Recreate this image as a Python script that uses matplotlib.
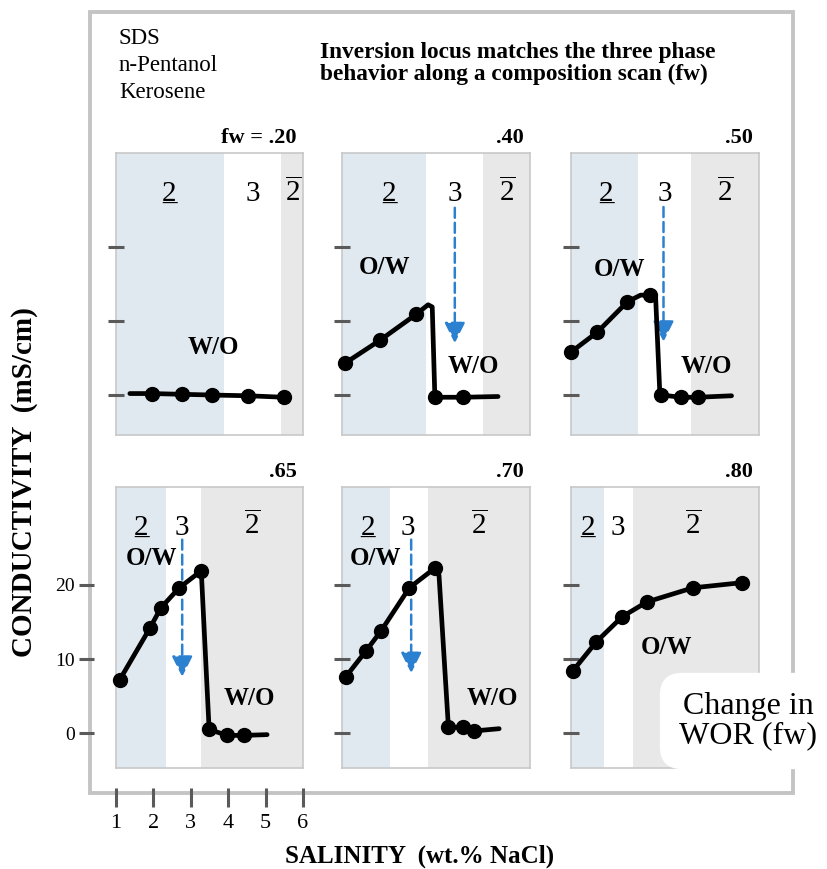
import matplotlib
matplotlib.use("Agg")
import matplotlib.pyplot as plt
from matplotlib.patches import Rectangle

plt.rcParams['font.family'] = ['Liberation Serif', 'DejaVu Serif']
plt.rcParams['mathtext.fontset'] = 'custom'
plt.rcParams['mathtext.rm'] = 'Liberation Serif'
plt.rcParams['mathtext.it'] = 'Liberation Serif:italic'

W, H = 827, 869

# ---------------- data ----------------
fw_titles = ['fw = .20', '.40', '.50', '.65', '.70', '.80']

# salinity limits of the phase regions (end of 2, end of 3)
two_end = [3.89, 3.23, 2.79, 2.34, 2.28, 1.88]
three_end = [5.41, 4.75, 4.18, 3.27, 3.29, 2.65]

# curve vertices (salinity, conductivity)
line_x_20 = [1.37, 1.96, 2.76, 3.57, 4.53, 5.49]
line_y_20 = [0.2, 0.2, 0.1, 0.0, -0.1, -0.3]
line_x_40 = [1.08, 2.01, 2.97, 3.29, 3.40, 3.47, 4.22, 5.15]
line_y_40 = [4.3, 7.4, 10.9, 12.2, 11.9, -0.3, -0.3, -0.2]
line_x_50 = [1.0, 1.7, 2.5, 2.85, 3.09, 3.25, 3.36, 3.40, 3.93, 4.38, 5.27]
line_y_50 = [5.8, 8.5, 12.6, 13.5, 13.5, 13.3, 0.5, 0.0, -0.3, -0.3, -0.1]
line_x_65 = [1.1, 1.91, 2.2, 2.69, 3.28, 3.49, 3.97, 4.42, 5.04]
line_y_65 = [7.2, 14.2, 16.9, 19.6, 21.9, 0.5, -0.3, -0.3, -0.2]
line_x_70 = [1.1, 1.64, 2.04, 2.79, 3.48, 3.58, 3.83, 4.22, 4.52, 5.18]
line_y_70 = [7.6, 11.1, 13.8, 19.6, 22.3, 21.3, 0.8, 0.8, 0.3, 0.6]
line_x_80 = [1.05, 1.67, 2.36, 3.02, 4.24, 5.55]
line_y_80 = [8.4, 12.3, 15.7, 17.7, 19.6, 20.3]

# measured points (dots)
dot_x_20 = [1.96, 2.76, 3.57, 4.53, 5.49]
dot_y_20 = [0.2, 0.1, 0.0, -0.1, -0.3]
dot_x_40 = [1.08, 2.01, 2.97, 3.47, 4.22]
dot_y_40 = [4.3, 7.4, 10.9, -0.3, -0.3]
dot_x_50 = [1.0, 1.7, 2.5, 3.09, 3.40, 3.93, 4.38]
dot_y_50 = [5.8, 8.5, 12.6, 13.5, 0.0, -0.3, -0.3]
dot_x_65 = [1.1, 1.91, 2.2, 2.69, 3.28, 3.49, 3.97, 4.42]
dot_y_65 = [7.2, 14.2, 16.9, 19.6, 21.9, 0.5, -0.3, -0.3]
dot_x_70 = [1.1, 1.64, 2.04, 2.79, 3.48, 3.83, 4.22, 4.52]
dot_y_70 = [7.6, 11.1, 13.8, 19.6, 22.3, 0.8, 0.8, 0.3]
dot_x_80 = [1.05, 1.67, 2.36, 3.02, 4.24, 5.55]
dot_y_80 = [8.4, 12.3, 15.7, 17.7, 19.6, 20.3]

lines = [(line_x_20, line_y_20), (line_x_40, line_y_40), (line_x_50, line_y_50),
         (line_x_65, line_y_65), (line_x_70, line_y_70), (line_x_80, line_y_80)]
dots = [(dot_x_20, dot_y_20), (dot_x_40, dot_y_40), (dot_x_50, dot_y_50),
        (dot_x_65, dot_y_65), (dot_x_70, dot_y_70), (dot_x_80, dot_y_80)]

# x positions of the phase labels 2, 3, 2bar
phase_x = [(2.42, 4.66, 5.73), (2.25, 4.0, 5.4), (1.94, 3.49, 5.1),
           (1.67, 2.76, 4.64), (1.69, 2.76, 4.65), (1.45, 2.25, 4.25)]

# emulsion type labels (text, x, y)
type_labels = [[('W/O', 3.6, 6.4)],
               [('O/W', 2.12, 17.2), ('W/O', 4.5, 3.8)],
               [('O/W', 2.28, 16.9), ('W/O', 4.6, 3.8)],
               [('O/W', 1.96, 23.6), ('W/O', 4.56, 4.7)],
               [('O/W', 1.9, 23.6), ('W/O', 5.0, 4.7)],
               [('O/W', 3.55, 11.5)]]

# dashed inversion arrows (x, y start, y end)
arrows = [None, (4.0, 25.3, 7.0), (3.46, 25.4, 7.2),
          (2.77, 26.1, 7.6), (2.84, 26.1, 8.1), None]

yticks = [0, 10, 20]
xticks = [1, 2, 3, 4, 5, 6]

# ---------------- figure ----------------
fig = plt.figure(figsize=(W / 100, H / 100), dpi=100)

blue = '#e1e9f0'
grey = '#e8e8e8'
arrow_col = '#2b80d0'

# outer frame
fig.patches.append(Rectangle((90 / W, 1 - 793 / H), (793 - 90) / W, (793 - 12) / H,
                             transform=fig.transFigure, fill=False,
                             ec='#c4c4c4', lw=2.8, zorder=-1))

cols = [(116, 303), (342, 530), (571, 759)]
rows = [(153, 435, (-5.4, 32.7)), (487, 768, (-4.7, 33.2))]

axes = []
for r, (top, bot, ylim) in enumerate(rows):
    for c, (left, right) in enumerate(cols):
        ax = fig.add_axes([left / W, 1 - bot / H, (right - left) / W, (bot - top) / H])
        ax.set_xlim(1, 6)
        ax.set_ylim(*ylim)
        axes.append(ax)

for i, ax in enumerate(axes):
    ax.set_facecolor('white')
    ax.axvspan(1, two_end[i], color=blue, lw=0, zorder=0)
    ax.axvspan(three_end[i], 6, color=grey, lw=0, zorder=0)
    for s in ax.spines.values():
        s.set_color('#c8c8c8')
        s.set_linewidth(1.2)
        s.set_zorder(0.5)
    ax.set_xticks([])
    ax.set_yticks(yticks)
    if i == 3:
        ax.tick_params(axis='y', left=False, labelleft=False)
    else:
        ax.tick_params(axis='y', direction='inout', length=12, width=2.2,
                       color='#5a5a5a', labelleft=False)

    lx, ly = lines[i]
    ax.plot(lx, ly, color='black', lw=3.4, solid_joinstyle='round',
            solid_capstyle='round', zorder=3, clip_on=False)
    dx, dy = dots[i]
    ax.plot(dx, dy, 'o', color='black', ms=10, zorder=4, clip_on=False)

    # phase labels (2 underlined, 3, 2 overlined)
    tr = ax.get_xaxis_transform()
    x2, x3, x2b = phase_x[i]
    ax.text(x2, 0.83, '2', transform=tr, ha='center', va='baseline', size=21)
    ax.text(x2, 0.83, '_', transform=tr, ha='center', va='baseline', size=21)
    ax.text(x3, 0.83, '3', transform=tr, ha='center', va='baseline', size=21)
    ax.text(x2b, 0.83, r'$\overline{2}$', transform=tr, ha='center',
            va='baseline', size=21)

    for txt, tx, ty in type_labels[i]:
        ax.text(tx, ty, txt, ha='center', va='center', size=18, weight='bold', zorder=5)

    if arrows[i] is not None:
        axx, y0, y1 = arrows[i]
        ax.annotate('', xy=(axx, y1), xytext=(axx, y0),
                    arrowprops=dict(arrowstyle='-|>,head_length=0.7,head_width=0.35',
                                    color=arrow_col, lw=1.8, linestyle=(0, (4, 2)),
                                    mutation_scale=18, shrinkA=0, shrinkB=0),
                    zorder=2)

    ax.text(0.965, 1.035, fw_titles[i], transform=ax.transAxes, ha='right',
            va='baseline', size=16, weight='bold')

# detached axes of the lower-left panel
ax = axes[3]
sy = ax.secondary_yaxis(-22 / 188)
sy.set_yticks(yticks)
sy.spines['left'].set_visible(False)
sy.tick_params(direction='out', length=11, width=2.2, color='#5a5a5a',
               labelsize=14, pad=3)
sx = ax.secondary_xaxis(-20 / 281)
sx.set_xticks(xticks)
sx.spines['bottom'].set_visible(False)
sx.tick_params(direction='out', length=14, width=2.2, color='#5a5a5a',
               labelsize=16, pad=5)

# texts
fig.text(119 / W, 1 - 44 / H, 'SDS', size=16.5, va='baseline')
fig.text(119 / W, 1 - 71 / H, 'n-Pentanol', size=16.5, va='baseline')
fig.text(119 / W, 1 - 98 / H, 'Kerosene', size=16.5, va='baseline')
fig.text(320 / W, 1 - 58 / H, 'Inversion locus matches the three phase',
         size=16.8, weight='bold', va='baseline')
fig.text(320 / W, 1 - 80 / H, 'behavior along a composition scan (fw)',
         size=16.8, weight='bold', va='baseline')

fig.text(25 / W, 1 - 482 / H, 'CONDUCTIVITY  (mS/cm)', rotation=90,
         ha='center', va='center', size=21, weight='bold')
fig.text(420 / W, 1 - 856 / H, 'SALINITY  (wt.% NaCl)', ha='center',
         va='center', size=18, weight='bold')

fig.text(748 / W, 1 - 721 / H, 'Change in\nWOR (fw)', ha='center', va='center',
         size=23, linespacing=1.0, zorder=10,
         bbox=dict(boxstyle='round,pad=0.6,rounding_size=0.7', fc='white', ec='none'))

fig.savefig('out.png', dpi=100)
